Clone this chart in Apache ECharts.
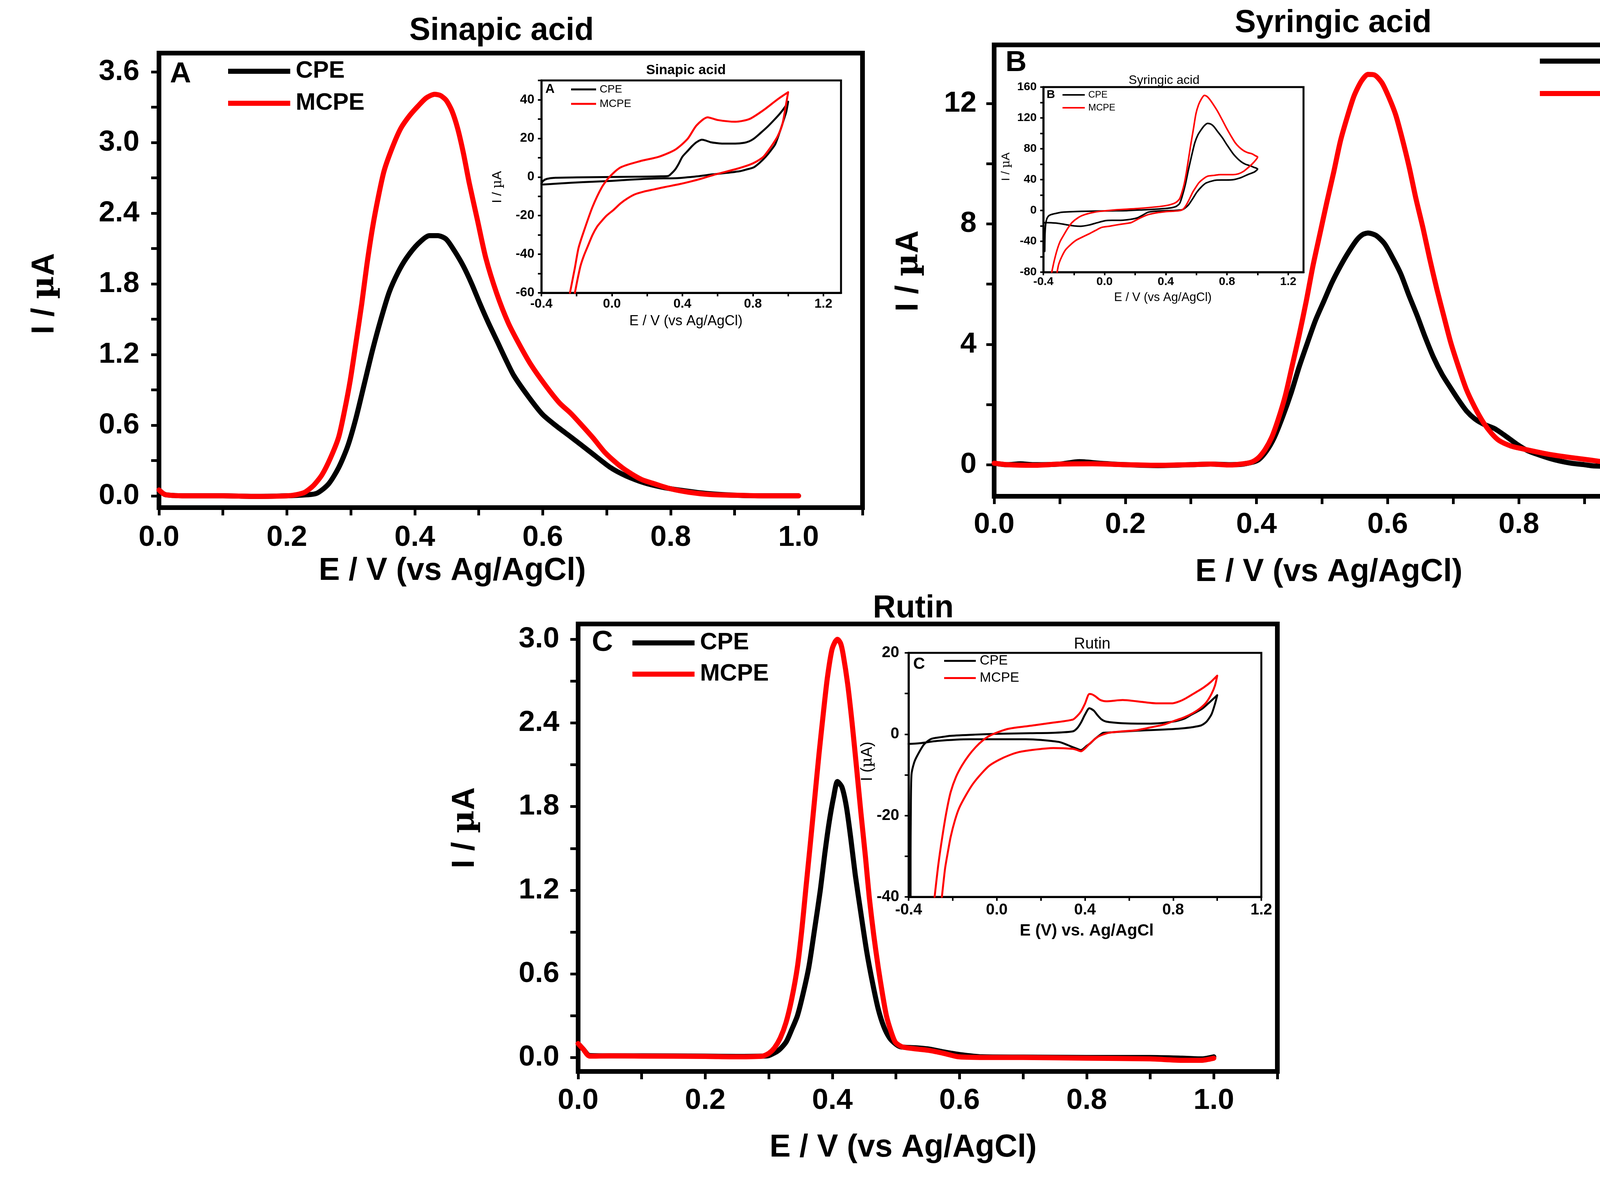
<!DOCTYPE html>
<html>
<head>
<meta charset="utf-8">
<script src="https://cdn.jsdelivr.net/npm/echarts/dist/echarts.min.js"></script>
<style>
  html, body { margin: 0; padding: 0; background: #fff; }
  #main { width: 4441px; height: 3022px; }
</style>
</head>
<body>
<div id="main"></div>
<script>
// ---- DPV curves (E / V, I / uA) ----
const sinapicCpe = [[0,0.05],[0.01,0.01],[0.05,0],[0.1,0],[0.15,-0.005],[0.2,0],[0.22,0.005],[0.246,0.02],[0.265,0.1],[0.281,0.24],[0.295,0.42],[0.308,0.66],[0.321,0.95],[0.334,1.24],[0.347,1.5],[0.36,1.73],[0.374,1.9],[0.387,2.02],[0.405,2.14],[0.423,2.21],[0.436,2.21],[0.449,2.18],[0.462,2.08],[0.476,1.95],[0.489,1.8],[0.502,1.63],[0.515,1.47],[0.529,1.31],[0.542,1.16],[0.555,1.02],[0.578,0.84],[0.6,0.69],[0.622,0.59],[0.644,0.5],[0.675,0.37],[0.706,0.24],[0.73,0.17],[0.759,0.11],[0.785,0.075],[0.812,0.05],[0.856,0.02],[0.9,0.005],[0.95,0],[1.0,0]];
const sinapicMcpe = [[0,0.05],[0.01,0.01],[0.05,0],[0.1,0],[0.15,-0.005],[0.2,0],[0.215,0.01],[0.228,0.03],[0.242,0.09],[0.255,0.18],[0.268,0.32],[0.281,0.5],[0.29,0.72],[0.299,0.98],[0.308,1.3],[0.317,1.63],[0.325,1.96],[0.334,2.28],[0.343,2.54],[0.352,2.76],[0.365,2.96],[0.378,3.12],[0.392,3.23],[0.405,3.31],[0.418,3.38],[0.431,3.41],[0.44,3.4],[0.449,3.36],[0.458,3.27],[0.467,3.12],[0.476,2.91],[0.485,2.66],[0.498,2.34],[0.511,2.02],[0.528,1.72],[0.546,1.47],[0.564,1.28],[0.582,1.11],[0.604,0.94],[0.626,0.79],[0.644,0.7],[0.661,0.6],[0.679,0.49],[0.697,0.37],[0.715,0.28],[0.732,0.21],[0.754,0.14],[0.776,0.1],[0.8,0.06],[0.829,0.03],[0.86,0.012],[0.9,0.005],[0.95,0],[1.0,0]];

const syringicCpe = [[0,0.05],[0.02,0],[0.04,0.03],[0.06,0],[0.1,0.02],[0.13,0.1],[0.16,0.05],[0.2,0],[0.25,-0.03],[0.3,0],[0.33,0.02],[0.36,0],[0.38,0.02],[0.402,0.15],[0.415,0.45],[0.427,0.9],[0.44,1.6],[0.453,2.4],[0.465,3.25],[0.478,4.07],[0.49,4.8],[0.503,5.45],[0.515,6.05],[0.528,6.6],[0.54,7.05],[0.553,7.47],[0.562,7.65],[0.57,7.7],[0.582,7.62],[0.595,7.35],[0.607,6.9],[0.62,6.34],[0.632,5.65],[0.645,4.95],[0.657,4.25],[0.67,3.56],[0.683,3.0],[0.696,2.55],[0.708,2.15],[0.72,1.79],[0.733,1.52],[0.746,1.35],[0.763,1.2],[0.78,0.95],[0.797,0.68],[0.813,0.47],[0.83,0.33],[0.847,0.21],[0.863,0.12],[0.88,0.05],[0.9,0],[0.914,-0.04],[0.935,-0.05],[0.956,-0.04],[0.98,-0.01],[1.0,0]];
const syringicMcpe = [[0,0.05],[0.02,0],[0.06,-0.02],[0.1,0.02],[0.15,0.03],[0.2,0],[0.25,-0.02],[0.3,0],[0.33,0.02],[0.36,-0.01],[0.38,0.03],[0.392,0.08],[0.402,0.21],[0.413,0.5],[0.423,0.9],[0.433,1.5],[0.444,2.3],[0.454,3.25],[0.465,4.3],[0.476,5.45],[0.486,6.6],[0.497,7.7],[0.507,8.7],[0.518,9.75],[0.528,10.76],[0.539,11.6],[0.549,12.27],[0.56,12.75],[0.57,12.97],[0.58,12.95],[0.591,12.7],[0.601,12.25],[0.612,11.64],[0.622,10.85],[0.633,9.87],[0.643,8.85],[0.654,7.85],[0.664,6.85],[0.675,5.83],[0.686,4.9],[0.696,4.07],[0.708,3.25],[0.72,2.5],[0.733,1.9],[0.746,1.4],[0.758,1.05],[0.77,0.8],[0.788,0.62],[0.805,0.53],[0.826,0.43],[0.847,0.34],[0.868,0.27],[0.889,0.21],[0.91,0.15],[0.93,0.09],[0.947,0.04],[0.964,0],[1.0,0]];

const rutinCpe = [[0,0.1],[0.008,0.06],[0.018,0.014],[0.05,0.012],[0.1,0.012],[0.2,0.01],[0.25,0.008],[0.29,0.01],[0.3,0.014],[0.315,0.05],[0.327,0.11],[0.336,0.2],[0.345,0.3],[0.354,0.46],[0.363,0.65],[0.372,0.92],[0.381,1.2],[0.388,1.46],[0.395,1.69],[0.402,1.87],[0.408,1.98],[0.415,1.94],[0.422,1.8],[0.429,1.57],[0.436,1.31],[0.445,1.03],[0.454,0.76],[0.463,0.54],[0.472,0.35],[0.481,0.22],[0.49,0.14],[0.5,0.095],[0.508,0.076],[0.53,0.07],[0.553,0.06],[0.575,0.04],[0.599,0.022],[0.635,0.005],[0.7,0.003],[0.8,0],[0.9,0],[0.95,-0.005],[0.98,-0.01],[1.0,0.005]];
const rutinMcpe = [[0,0.1],[0.008,0.06],[0.018,0.01],[0.05,0.012],[0.1,0.01],[0.2,0.008],[0.25,0.005],[0.29,0.01],[0.3,0.03],[0.309,0.07],[0.318,0.14],[0.327,0.25],[0.336,0.42],[0.345,0.65],[0.352,0.92],[0.358,1.2],[0.365,1.52],[0.372,1.85],[0.379,2.18],[0.386,2.48],[0.392,2.72],[0.399,2.92],[0.404,2.98],[0.408,3.0],[0.413,2.97],[0.417,2.89],[0.424,2.68],[0.431,2.4],[0.438,2.08],[0.445,1.75],[0.452,1.44],[0.458,1.15],[0.465,0.88],[0.472,0.65],[0.479,0.45],[0.485,0.3],[0.492,0.19],[0.499,0.11],[0.508,0.08],[0.517,0.07],[0.535,0.06],[0.553,0.05],[0.575,0.03],[0.599,0.005],[0.65,0],[0.7,0],[0.8,-0.005],[0.9,-0.01],[0.95,-0.02],[0.98,-0.02],[1.0,-0.005]];

// ---- CV insets (E / V, I / uA), forward scan then reverse ----
const sinapicCvCpe = [[-0.4,-3.5],[-0.39,-2],[-0.37,-1.0],[-0.32,-0.4],[-0.2,-0.2],[0,0],[0.1,0.1],[0.2,0.2],[0.28,0.35],[0.32,0.5],[0.34,2.0],[0.36,4.0],[0.38,7.0],[0.4,10.5],[0.43,13.5],[0.455,16],[0.48,18],[0.51,19.3],[0.535,18.8],[0.56,18],[0.6,17.5],[0.63,17.3],[0.7,17.3],[0.75,17.7],[0.78,18.5],[0.805,19.8],[0.84,22.5],[0.886,26.3],[0.92,29.5],[0.953,32.8],[0.98,36],[1.0,39],[0.99,34],[0.98,31],[0.955,24],[0.927,17],[0.9,13.5],[0.873,10.5],[0.84,7.5],[0.805,5],[0.76,3.8],[0.725,3],[0.65,2.1],[0.576,1.4],[0.48,0.3],[0.37,-0.6],[0.24,-0.8],[0.1,-1.4],[0,-2],[-0.1,-2.4],[-0.23,-3],[-0.32,-3.5],[-0.39,-3.9]];
const sinapicCvMcpe = [[-0.238,-60],[-0.21,-47],[-0.19,-37],[-0.164,-29.4],[-0.11,-15.5],[-0.057,-5.3],[-0.016,-0.2],[0.05,5],[0.16,8.2],[0.267,10.5],[0.36,14.2],[0.43,19.8],[0.48,26.7],[0.543,30.9],[0.6,29.5],[0.7,28.6],[0.78,30],[0.86,34.6],[0.94,40.2],[1.0,43.9],[0.985,36],[0.967,27.2],[0.94,21],[0.913,17],[0.886,13.5],[0.86,10.5],[0.82,8],[0.78,6.3],[0.7,4],[0.59,1.4],[0.51,-0.8],[0.44,-2.5],[0.374,-3.9],[0.3,-5.2],[0.24,-6.4],[0.18,-7.6],[0.13,-9],[0.09,-11],[0.05,-13.6],[0.01,-17],[-0.03,-20],[-0.06,-23],[-0.084,-25.7],[-0.11,-30],[-0.137,-35.9],[-0.16,-41],[-0.178,-46],[-0.195,-53],[-0.21,-60]];

const syringicCvCpe = [[-0.391,-53],[-0.389,-30],[-0.383,-15],[-0.37,-8],[-0.35,-5.4],[-0.3,-3],[-0.27,-2.2],[-0.15,-1.2],[-0.06,-0.8],[0.05,-0.5],[0.147,-0.2],[0.25,0.8],[0.354,1.9],[0.42,3],[0.465,5],[0.49,9],[0.506,17.5],[0.527,33],[0.548,52.7],[0.57,72],[0.59,88],[0.61,98],[0.631,104.6],[0.652,110],[0.673,112.9],[0.694,112],[0.714,108.8],[0.74,102],[0.77,94.2],[0.8,85],[0.84,73.5],[0.87,67],[0.894,63],[0.92,60],[0.95,58],[0.975,56],[1.0,53.8],[0.98,50],[0.936,46.5],[0.89,42.5],[0.84,39.9],[0.78,39.5],[0.728,39.3],[0.69,37.5],[0.659,35.1],[0.63,30],[0.603,23.7],[0.575,15],[0.548,7.1],[0.525,3],[0.506,0.9],[0.45,-0.1],[0.424,-0.2],[0.35,-0.8],[0.285,-2.2],[0.25,-6],[0.216,-9.5],[0.17,-11.5],[0.119,-12.6],[0.06,-12.8],[0.008,-13.2],[-0.05,-16],[-0.1,-18.8],[-0.158,-20.5],[-0.2,-20],[-0.24,-18.8],[-0.3,-16.8],[-0.35,-16],[-0.386,-15.7],[-0.393,-16]];
const syringicCvMcpe = [[-0.345,-80],[-0.33,-66],[-0.31,-51],[-0.29,-40],[-0.268,-32.3],[-0.24,-23],[-0.213,-15.7],[-0.17,-9],[-0.13,-5.4],[-0.08,-2.8],[-0.033,-1.2],[0.078,0.9],[0.216,2.5],[0.354,5],[0.42,7],[0.465,10.2],[0.49,15],[0.506,23.7],[0.52,34],[0.534,48.6],[0.548,66],[0.562,83.9],[0.58,105],[0.597,125.4],[0.614,137],[0.631,144],[0.652,149.2],[0.668,148],[0.687,144],[0.715,136],[0.742,127.4],[0.77,117],[0.797,106.7],[0.825,97],[0.853,88],[0.88,82],[0.908,77.6],[0.935,75],[0.963,73.5],[0.985,71],[1.0,69.3],[0.99,66],[0.963,60],[0.935,55],[0.908,50.7],[0.875,47.5],[0.84,46.5],[0.8,46.5],[0.756,46.5],[0.715,45.5],[0.673,44.4],[0.645,41],[0.617,36.1],[0.596,30],[0.576,23.7],[0.555,15],[0.534,7.1],[0.515,2],[0.493,-0.2],[0.44,-1],[0.396,-1.6],[0.34,-3],[0.285,-5.4],[0.23,-10],[0.174,-15.7],[0.12,-17.5],[0.078,-18.8],[0.03,-20.5],[-0.019,-22],[-0.06,-26],[-0.1,-30.2],[-0.14,-34],[-0.185,-38.5],[-0.22,-44],[-0.255,-51],[-0.28,-60],[-0.3,-70],[-0.31,-80]];

const rutinCvCpe = [[-0.391,-40],[-0.391,-30],[-0.39,-20],[-0.387,-10],[-0.375,-7],[-0.36,-5.2],[-0.33,-2.5],[-0.297,-1.15],[-0.25,-0.7],[-0.21,-0.4],[-0.1,-0.1],[0.005,0.1],[0.15,0.25],[0.257,0.35],[0.345,0.7],[0.365,1.5],[0.382,2.86],[0.4,4.8],[0.42,6.4],[0.44,5.8],[0.458,4.6],[0.476,3.6],[0.496,3.1],[0.571,2.7],[0.697,2.6],[0.8,3.1],[0.85,3.8],[0.886,4.9],[0.93,6.2],[0.96,7.6],[1.0,9.6],[0.99,7.5],[0.974,4.9],[0.95,3],[0.923,2.1],[0.823,1.35],[0.634,0.85],[0.5,0.4],[0.483,0.35],[0.465,-0.3],[0.445,-1.15],[0.425,-2.2],[0.407,-2.9],[0.39,-3.7],[0.382,-3.9],[0.365,-3.6],[0.345,-3.2],[0.31,-2.4],[0.282,-1.9],[0.2,-1.4],[0.13,-1.25],[-0.12,-1.25],[-0.27,-1.65],[-0.347,-2.2],[-0.4,-2.4]];
const rutinCvMcpe = [[-0.282,-40],[-0.265,-32],[-0.247,-25.2],[-0.228,-19],[-0.209,-14.2],[-0.185,-10.5],[-0.158,-7.7],[-0.127,-5.2],[-0.096,-3.2],[-0.065,-1.6],[-0.033,-0.4],[0.01,0.6],[0.055,1.35],[0.156,2.1],[0.257,2.86],[0.345,3.6],[0.365,4.5],[0.382,5.6],[0.4,7.5],[0.42,9.9],[0.432,9.8],[0.445,9.4],[0.47,8.4],[0.496,8.1],[0.571,8.4],[0.634,8.1],[0.722,7.6],[0.797,7.6],[0.83,8.1],[0.86,8.9],[0.9,10.2],[0.936,11.4],[0.97,12.8],[1.0,14.4],[0.99,12],[0.974,9.9],[0.95,7.8],[0.923,6.4],[0.89,5.2],[0.848,4.1],[0.8,3.2],[0.76,2.4],[0.7,1.7],[0.634,1],[0.508,0.35],[0.458,-0.65],[0.42,-2.4],[0.4,-3.5],[0.382,-4.2],[0.365,-3.9],[0.345,-3.6],[0.257,-3.4],[0.156,-3.9],[0.1,-4.4],[0.055,-5.2],[0.01,-6.3],[-0.033,-7.7],[-0.07,-9.7],[-0.108,-12.2],[-0.14,-15],[-0.171,-18.2],[-0.19,-21.2],[-0.209,-25.2],[-0.222,-29],[-0.234,-32.8],[-0.242,-36.5],[-0.249,-40]];

// ---- tick labels ----
const mainXLabels = [0, 0.2, 0.4, 0.6, 0.8, 1.0];
const mainXTicks = [0, 0.1, 0.2, 0.3, 0.4, 0.5, 0.6, 0.7, 0.8, 0.9, 1.0, 1.1];
const dpv36Labels = [0, 0.6, 1.2, 1.8, 2.4, 3.0, 3.6];
const dpv36Ticks = [0, 0.3, 0.6, 0.9, 1.2, 1.5, 1.8, 2.1, 2.4, 2.7, 3.0, 3.3, 3.6];
const dpv12Labels = [0, 4, 8, 12];
const dpv12Ticks = [0, 2, 4, 6, 8, 10, 12];
const dpv30Labels = [0, 0.6, 1.2, 1.8, 2.4, 3.0];
const dpv30Ticks = [0, 0.3, 0.6, 0.9, 1.2, 1.5, 1.8, 2.1, 2.4, 2.7, 3.0];
const cvXLabels = [-0.4, 0, 0.4, 0.8, 1.2];
const cvXTicks = [-0.4, -0.2, 0, 0.2, 0.4, 0.6, 0.8, 1.0, 1.2];
const cvALabels = [-60, -40, -20, 0, 20, 40];
const cvATicks = [-60, -50, -40, -30, -20, -10, 0, 10, 20, 30, 40, 50];
const cvBLabels = [-80, -40, 0, 40, 80, 120, 160];
const cvBTicks = [-80, -60, -40, -20, 0, 20, 40, 60, 80, 100, 120, 140, 160];
const cvCLabels = [-40, -20, 0, 20];
const cvCTicks = [-40, -30, -20, -10, 0, 10, 20];

const FONT = '"Liberation Sans", Arial, sans-serif';
const SERIF = '"DejaVu Serif", "Liberation Serif", serif';
const RED = '#ff0000';
const BLACK = '#000000';

const fix1 = (v) => Number(v).toFixed(1);
const int0 = (v) => String(Math.round(v));

function axis(gridIndex, min, max, labels, ticks, fmt, fs, margin, tickLen, tickW, lineW) {
  return {
    type: 'value', gridIndex: gridIndex, min: min, max: max,
    splitLine: { show: false },
    axisLine: { show: true, onZero: false, lineStyle: { color: BLACK, width: lineW } },
    axisTick: { show: true, inside: false, length: tickLen, customValues: ticks,
      lineStyle: { color: BLACK, width: tickW } },
    axisLabel: { show: true, customValues: labels, formatter: fmt, fontSize: fs,
      fontWeight: 'bold', fontFamily: FONT, color: BLACK, margin: margin }
  };
}

function line(name, xi, data, color, width) {
  return {
    type: 'line', name: name, xAxisIndex: xi, yAxisIndex: xi, data: data,
    showSymbol: false, symbol: 'none', smooth: 0.25, clip: true,
    lineStyle: { color: color, width: width, join: 'round', cap: 'round' },
    itemStyle: { color: color }
  };
}

function legend(left, top, w, h, fs, gap, bold) {
  return {
    show: true, left: left, top: top, orient: 'vertical', selectedMode: false,
    data: ['CPE', 'MCPE'], icon: 'rect', itemWidth: w, itemHeight: h, itemGap: gap,
    padding: 0,
    textStyle: { fontSize: fs, lineHeight: fs, fontWeight: bold ? 'bold' : 'normal',
      fontFamily: FONT, color: BLACK, padding: [0, 0, 0, Math.round(fs * 0.15)] }
  };
}

function text(x, y, str, size, weight, rotate) {
  return {
    type: 'text', x: x, y: y, rotation: rotate ? Math.PI / 2 : 0, z: 100,
    style: { text: str, fontSize: size, fontWeight: weight, fontFamily: FONT,
      fill: BLACK, align: 'center', verticalAlign: 'middle',
      textAlign: 'center', textVerticalAlign: 'middle',
      rich: { m: { fontFamily: SERIF, fontSize: size, fontWeight: weight, fill: BLACK } } }
  };
}

const chart = echarts.init(document.getElementById('main'), null, { renderer: 'canvas' });

const option = {
  animation: false,
  backgroundColor: '#ffffff',
  grid: [
    { left: 407, top: 136, width: 1801, height: 1164, show: true, borderColor: BLACK, borderWidth: 12, backgroundColor: 'transparent' },
    { left: 2545, top: 115, width: 1847, height: 1156, show: true, borderColor: BLACK, borderWidth: 12, backgroundColor: 'transparent' },
    { left: 1480, top: 1598, width: 1790, height: 1146, show: true, borderColor: BLACK, borderWidth: 12, backgroundColor: 'transparent' },
    { left: 1386, top: 206, width: 767, height: 544, show: true, borderColor: BLACK, borderWidth: 5, backgroundColor: '#ffffff' },
    { left: 2671, top: 223, width: 666, height: 474, show: true, borderColor: BLACK, borderWidth: 5, backgroundColor: '#ffffff' },
    { left: 2326, top: 1672, width: 903, height: 625, show: true, borderColor: BLACK, borderWidth: 5, backgroundColor: '#ffffff' }
  ],
  xAxis: [
    axis(0, 0, 1.1, mainXLabels, mainXTicks, fix1, 75, 40, 20, 7, 12),
    axis(1, 0, 1.1, mainXLabels, mainXTicks, fix1, 75, 36, 20, 7, 12),
    axis(2, 0, 1.1, mainXLabels, mainXTicks, fix1, 75, 38, 20, 7, 12),
    axis(3, -0.4, 1.3, cvXLabels, cvXTicks, fix1, 33, 12, 9, 4, 5),
    axis(4, -0.4, 1.3, cvXLabels, cvXTicks, fix1, 30, 10, 8, 4, 5),
    axis(5, -0.4, 1.2, cvXLabels, cvXTicks, fix1, 40, 14, 10, 4, 5)
  ],
  yAxis: [
    axis(0, -0.1, 3.76, dpv36Labels, dpv36Ticks, fix1, 75, 50, 20, 7, 12),
    axis(1, -1.05, 13.95, dpv12Labels, dpv12Ticks, int0, 75, 45, 20, 7, 12),
    axis(2, -0.1, 3.11, dpv30Labels, dpv30Ticks, fix1, 75, 48, 20, 7, 12),
    axis(3, -60, 50, cvALabels, cvATicks, int0, 33, 18, 9, 4, 5),
    axis(4, -80, 160, cvBLabels, cvBTicks, int0, 30, 17, 8, 4, 5),
    axis(5, -40, 20, cvCLabels, cvCTicks, int0, 40, 24, 10, 4, 5)
  ],
  legend: [
    legend(584, 152, 159, 13, 61, 21, true),
    legend(3942, 126, 162, 13, 61, 22, true),
    legend(1619, 1616, 159, 13, 61, 19, true),
    legend(1462, 215, 64, 5, 28, 9, false),
    legend(2720, 231, 57, 4, 24, 9, false),
    legend(2417, 1675, 81, 5, 35, 9, false)
  ],
  series: [
    line('CPE', 0, sinapicCpe, BLACK, 13),
    line('MCPE', 0, sinapicMcpe, RED, 13),
    line('CPE', 1, syringicCpe, BLACK, 13),
    line('MCPE', 1, syringicMcpe, RED, 13),
    line('CPE', 2, rutinCpe, BLACK, 13),
    line('MCPE', 2, rutinMcpe, RED, 13),
    line('CPE', 3, sinapicCvCpe, BLACK, 5),
    line('MCPE', 3, sinapicCvMcpe, RED, 5),
    line('CPE', 4, syringicCvCpe, BLACK, 4),
    line('MCPE', 4, syringicCvMcpe, RED, 4),
    line('CPE', 5, rutinCvCpe, BLACK, 5),
    line('MCPE', 5, rutinCvMcpe, RED, 5)
  ],
  graphic: [
    // panel titles
    text(1284, 80, 'Sinapic acid', 81, 'bold'),
    text(3413, 60, 'Syringic acid', 81, 'bold'),
    text(2338, 1559, 'Rutin', 81, 'bold'),
    // panel letters
    text(462, 190, 'A', 75, 'bold'),
    text(2601, 161, 'B', 75, 'bold'),
    text(1542, 1646, 'C', 75, 'bold'),
    // main axis names
    text(1158, 1463, 'E / V (vs Ag/AgCl)', 81, 'bold'),
    text(115, 752, 'I / {m|µ}A', 81, 'bold', true),
    text(3402, 1466, 'E / V (vs Ag/AgCl)', 81, 'bold'),
    text(2327, 694, 'I / {m|µ}A', 81, 'bold', true),
    text(2312, 2940, 'E / V (vs Ag/AgCl)', 81, 'bold'),
    text(1191, 2120, 'I / {m|µ}A', 81, 'bold', true),
    // inset titles, letters and axis names
    text(1756, 180, 'Sinapic acid', 35, 'bold'),
    text(1408, 229, 'A', 33, 'bold'),
    text(1756, 823, 'E / V (vs Ag/AgCl)', 36, 'normal'),
    text(1274, 479, 'I / {m|µ}A', 34, 'normal', true),
    text(2980, 206, 'Syringic acid', 32, 'normal'),
    text(2690, 243, 'B', 30, 'bold'),
    text(2977, 762, 'E / V (vs Ag/AgCl)', 31, 'normal'),
    text(2576, 427, 'I / {m|µ}A', 30, 'normal', true),
    text(2796, 1650, 'Rutin', 40, 'normal'),
    text(2353, 1701, 'C', 42, 'bold'),
    text(2782, 2384, 'E (V) vs. Ag/AgCl', 42, 'bold'),
    text(2221, 1950, 'I ({m|µ}A)', 40, 'normal', true)
  ]
};

chart.setOption(option);
</script>
</body>
</html>
